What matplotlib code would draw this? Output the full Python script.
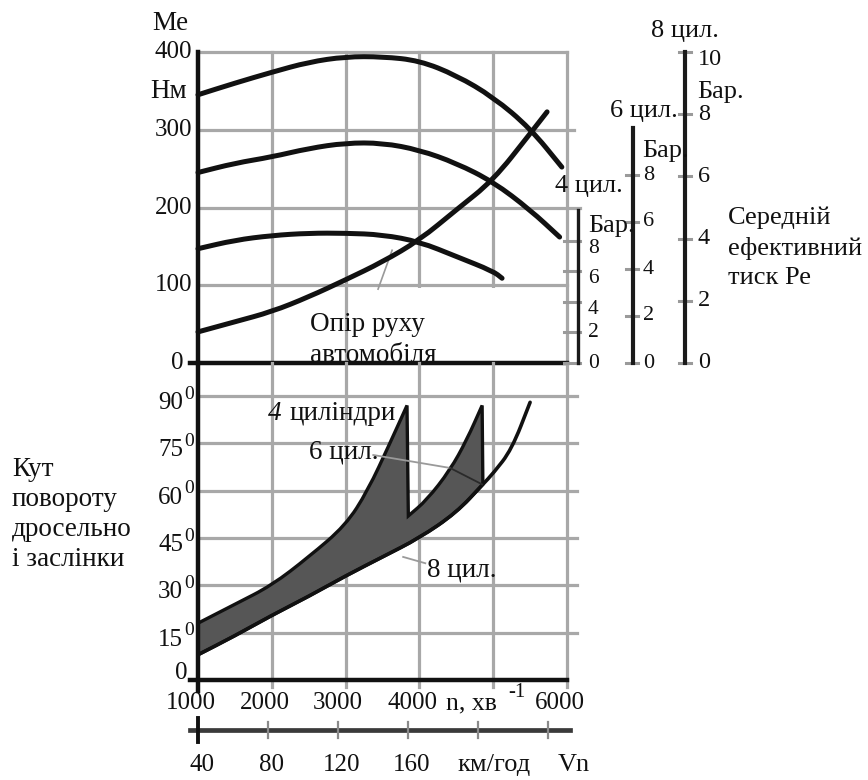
import matplotlib
matplotlib.use('Agg')
import matplotlib.pyplot as plt
from matplotlib.path import Path
from matplotlib.patches import PathPatch

plt.rcParams['font.family'] = ['Liberation Serif', 'DejaVu Serif']

# ---------------- data ----------------
rpm_grid = [2000, 3000, 4000, 5000, 6000]
rpm_labels = [1000, 2000, 3000, 4000, 6000]
me_grid = [100, 200, 300, 400]
me_labels = [0, 100, 200, 300, 400]
angle_grid = [15, 30, 45, 60, 75, 90]
angle_labels = [0, 15, 30, 45, 60, 75, 90]
speed_ticks = [40, 80, 120, 160, 200, 240]
speed_labels = ['40', '80', '120', '160']
bar_ticks_4 = [0, 2, 4, 6, 8]
bar_ticks_6 = [0, 2, 4, 6, 8]
bar_ticks_8 = [0, 2, 4, 6, 8, 10]

n_8 = [1000, 1500, 2000, 2500, 3000, 3500, 4000, 4500, 5000, 5500, 5930]
me_8 = [345, 360, 374, 387, 394, 394, 389, 370, 342, 302, 252]
n_6 = [1000, 1500, 2000, 2500, 3000, 3500, 4000, 4500, 5000, 5500, 5900]
me_6 = [245, 257, 265, 276, 283, 283, 274, 257, 233, 197, 162]
n_4 = [1000, 1500, 2000, 2500, 3000, 3500, 4000, 4500, 5000, 5120]
me_4 = [147, 158, 164, 167, 167, 165, 156, 137, 118, 109]
n_res = [1000, 1500, 2000, 2500, 3000, 3500, 4000, 4500, 5000, 5500, 5730]
me_res = [40, 53, 66, 85, 107, 130, 158, 197, 235, 295, 323]

n_4u = [1000, 1500, 2000, 2500, 3000, 3300, 3600, 3832]
a_4u = [18, 24, 30, 39, 49, 60, 75, 87]
n_6u = [3850, 4099, 4415, 4640, 4850]
a_6u = [52, 57, 66.5, 76, 87]
n_8l = [1000, 1500, 2000, 2500, 3000, 3500, 4000, 4500, 4860, 5000, 5250, 5500]
a_8l = [8, 14, 20.5, 26.5, 33, 39, 45, 53, 62, 65.5, 73, 88]

# ---------------- helpers ----------------
W, H = 868, 780
fig = plt.figure(figsize=(W / 100, H / 100), dpi=100)
fig.patch.set_facecolor('white')


def px_axes(x0, x1, y0, y1):
    ax = fig.add_axes([x0 / W, 1 - y1 / H, (x1 - x0) / W, (y1 - y0) / H])
    ax.set_axis_off()
    return ax


def ftext(x, y, s, **kw):
    kw.setdefault('fontsize', 19)
    kw.setdefault('color', '#111111')
    fig.text(x / W, 1 - y / H, s, **kw)


def smooth(xs, ys, start=True):
    pts = list(zip(xs, ys))
    verts = [pts[0]]
    codes = [Path.MOVETO if start else Path.LINETO]
    if len(pts) < 3:
        verts += pts[1:]
        codes += [Path.LINETO] * (len(pts) - 1)
        return verts, codes
    mid = lambda a, b: ((a[0] + b[0]) / 2, (a[1] + b[1]) / 2)
    verts.append(mid(pts[0], pts[1]))
    codes.append(Path.LINETO)
    for i in range(1, len(pts) - 1):
        verts += [pts[i], mid(pts[i], pts[i + 1])]
        codes += [Path.CURVE3, Path.CURVE3]
    verts.append(pts[-1])
    codes.append(Path.LINETO)
    return verts, codes


def draw_curve(ax, xs, ys, lw, z):
    v, c = smooth(xs, ys)
    ax.add_patch(PathPatch(Path(v, c), facecolor='none', edgecolor=BLK, lw=lw,
                           capstyle='round', joinstyle='round', zorder=z, clip_on=False))


GRID = '#a8a8a8'
GLW = 2.3
BLK = '#111111'

# ---------------- top panel ----------------
ax1 = px_axes(198, 567, 52, 363)
ax1.set_xlim(1000, 6000)
ax1.set_ylim(0, 400)

for n in rpm_grid:
    ax1.plot([n, n], [0, 400], color=GRID, lw=GLW, clip_on=False, zorder=1)
ext = {300: 6100, 200: 6170}
for m in me_grid:
    ax1.plot([1000, ext.get(m, 6000)], [m, m], color=GRID, lw=GLW, clip_on=False, zorder=1)

ax1.fill_between([3050, 5960], [3, 3], [97, 97], color='white', zorder=2, lw=0)

ax1.plot([1000, 1000], [0, 400], color=BLK, lw=3.2, clip_on=False, zorder=4)
ax1.plot([890, 6000], [0, 0], color=BLK, lw=3.2, clip_on=False, zorder=4)

for xs, ys in [(n_8, me_8), (n_6, me_6), (n_4, me_4), (n_res, me_res)]:
    draw_curve(ax1, xs, ys, 3.6, 5)

ax1.plot([3440, 3630], [95, 145], color='#999999', lw=1.2, clip_on=False, zorder=3)
ax1.text(2518, 49, 'Опір руху', fontsize=19.5, color=BLK, va='center', ha='left', zorder=6)
ax1.text(2518, 10, 'автомобіля', fontsize=19.5, color=BLK, va='center', ha='left', zorder=6)

for m in me_labels:
    ax1.text(920 if m else 810, m, str(m), fontsize=18, ha='right', va='center',
             color=BLK, clip_on=False)
ftext(152, 24, 'Me', fontsize=19.5, va='center', ha='left')
ftext(150, 91, 'Нм', fontsize=19.5, va='center', ha='left')

# ---------------- bottom panel ----------------
ax2 = px_axes(198, 567, 396, 680)
ax2.set_xlim(1000, 6000)
ax2.set_ylim(0, 90)

for n in rpm_grid:
    ax2.plot([n, n], [0, 100.5], color=GRID, lw=GLW, clip_on=False, zorder=1)
    ax2.plot([n, n], [0, -2.3], color=GRID, lw=GLW, clip_on=False, zorder=1)
for a in angle_grid:
    ax2.plot([1000, 6140], [a, a], color=GRID, lw=GLW, clip_on=False, zorder=1)
ax2.plot([1000, 1000], [-3.5, 100.5], color=BLK, lw=3.2, clip_on=False, zorder=4)
ax2.plot([890, 6000], [0, 0], color=BLK, lw=3.2, clip_on=False, zorder=4)

# shaded band
k = n_8l.index(4860)
v1, c1 = smooth(n_4u, a_4u, start=True)
v2, c2 = smooth(n_6u, a_6u, start=False)
v3, c3 = smooth(n_8l[:k + 1][::-1], a_8l[:k + 1][::-1], start=False)
verts = v1 + v2 + v3 + [(n_4u[0], a_4u[0])]
codes = c1 + c2 + c3 + [Path.CLOSEPOLY]
ax2.add_patch(PathPatch(Path(verts, codes), facecolor='#565656', edgecolor=BLK, lw=2.4,
                        joinstyle='miter', zorder=3, clip_on=False))
draw_curve(ax2, n_8l, a_8l, 2.6, 4)

# leaders
ax2.plot([3375, 4415], [71.3, 67.2], color='#9a9a9a', lw=1.3, zorder=3.5, clip_on=False)
ax2.plot([4415, 4850], [67.2, 62], color='#2a2a2a', lw=1.3, zorder=4, clip_on=False)
ax2.plot([3780, 4080], [39, 37], color='#9a9a9a', lw=1.3, zorder=4, clip_on=False)

ax2.text(1948, 84.6, '4', fontsize=19.5, style='italic', va='center', ha='left', color=BLK, zorder=6)
ax2.text(2235, 84.6, 'циліндри', fontsize=19.5, va='center', ha='left', color=BLK, zorder=6)
ax2.text(3440, 72.2, '6 цил.', fontsize=19.5, va='center', ha='right', color=BLK, zorder=6)
ax2.text(4105, 34.9, '8 цил.', fontsize=19.5, va='center', ha='left', color=BLK, zorder=6)

for a in angle_labels:
    ya = a - 2.2 if a else a + 2.3
    xr = 800 if a else 860
    ax2.text(xr, ya, str(a), fontsize=18, ha='right', va='center', color=BLK, clip_on=False)
    if a:
        ax2.text(812, ya + 2.8, '0', fontsize=14, ha='left', va='center',
                 color=BLK, clip_on=False)

for n in rpm_labels:
    ax2.text(n - 100, -7.3, str(n), fontsize=18, ha='center', va='center',
             color=BLK, clip_on=False)
ax2.text(4700, -7.3, 'n, хв', fontsize=18.5, ha='center', va='center', color=BLK, clip_on=False)
ax2.text(5200, -4.0, '-1', fontsize=15, ha='left', va='center', color=BLK, clip_on=False)

for i, line in enumerate(['Кут', 'повороту', 'дросельно', 'і заслінки']):
    ftext(12, 470 + 30 * i, line, fontsize=19.5, va='center', ha='left')

# ---------------- speed scale ----------------
v0, px0, kpx = 40, 198, 1.75
axv = px_axes(190, 570, 710, 750)
axv.set_xlim(v0 + (190 - px0) / kpx, v0 + (570 - px0) / kpx)
axv.set_ylim(-20, 20)
axv.plot(axv.get_xlim(), [0, 0], color='#3a3a3a', lw=3.4, clip_on=False, zorder=2)
for i, v in enumerate(speed_ticks):
    if i == 0:
        axv.plot([v, v], [-12, 12], color=BLK, lw=2.8, clip_on=False, zorder=3)
    else:
        axv.plot([v, v], [-8, 8], color='#8a8a8a', lw=1.6, clip_on=False, zorder=3)
for v, s in zip(speed_ticks, speed_labels):
    axv.text(v + 2, -35, s, fontsize=18, ha='center', va='center', color=BLK, clip_on=False)
axv.text(209, -35, 'км/год', fontsize=19, ha='center', va='center', color=BLK, clip_on=False)
axv.text(255, -35, 'Vn', fontsize=19, ha='center', va='center', color=BLK, clip_on=False)

# ---------------- pressure scales ----------------


def bar_scale(xc, ytop, ticks, tick_l, tick_r, lab_dx, fs, lw, dy):
    ax = px_axes(xc - 30, xc + 30, ytop, 363)
    ax.set_xlim(-30, 30)
    ax.set_ylim(0, 10)
    ax.plot([0, 0], [0, 10], color='#1a1a1a', lw=lw, clip_on=False, zorder=3)
    for t in ticks:
        ax.plot([-tick_l, tick_r], [t, t], color='#9a9a9a', lw=2.2, clip_on=False, zorder=2)
        ax.text(lab_dx, t - dy.get(t, 0), str(t), fontsize=fs, ha='left', va='center',
                color=BLK, clip_on=False)
    return ax


bar_scale(578, 210, bar_ticks_4, 14, 2, 10, 15.5, 2.4, {8: 0.5, 6: 0.5, 4: 0.5})
bar_scale(633, 128, bar_ticks_6, 7, 5, 10, 16, 3.0, {})
bar_scale(685, 52, bar_ticks_8, 6, 6, 13, 17.5, 3.0, {10: 0.25})

ftext(555, 186, '4 цил.', va='center', ha='left')
ftext(588, 226, 'Бар.', va='center', ha='left')
ftext(678, 111, '6 цил.', va='center', ha='right')
ftext(642, 151, 'Бар.', va='center', ha='left')
ftext(685, 31, '8 цил.', va='center', ha='center')
ftext(697, 92, 'Бар.', va='center', ha='left')
for i, line in enumerate(['Середній', 'ефективний', 'тиск Ре']):
    ftext(728, 218 + 30 * i, line, va='center', ha='left')

fig.savefig('out.png', dpi=100, facecolor='white')
